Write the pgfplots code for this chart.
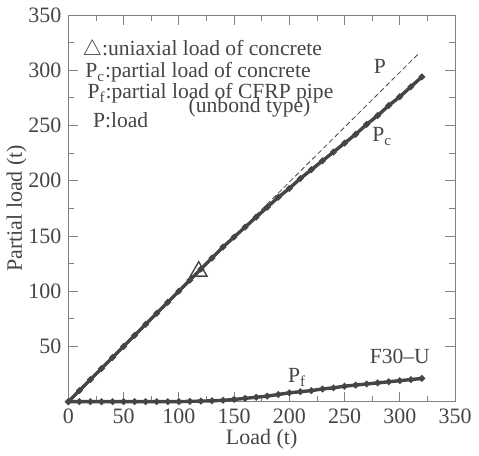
\documentclass[border=0pt]{standalone}
\usepackage{pgfplots}
\pgfplotsset{compat=1.18}
\usepackage{fontspec}
\setmainfont{Liberation Serif}
\definecolor{ink}{HTML}{454545}
\definecolor{axisgray}{HTML}{808080}
\begin{document}
\begin{tikzpicture}
\begin{axis}[
    name=ax,
    scale only axis,
    width=193.5pt, height=193.5pt,
    xmin=0, xmax=350, ymin=0, ymax=350,
    xtick={0,50,...,350},
    ytick={50,100,...,350},
    minor tick num=1,
    tick align=inside,
    major tick length=5pt, minor tick length=3pt,
    axis line style={axisgray},
    every tick/.style={axisgray},
    tick label style={font=\fontsize{11}{13}\selectfont, text=ink},
    /pgf/number format/assume math mode=true,
    xlabel={Load (t)},
    ylabel={Partial load (t)},
    label style={font=\fontsize{11}{13}\selectfont, text=ink},
    xlabel style={yshift=4pt},
    ylabel style={yshift=-6pt},
    clip=false,
]
% P : load (dashed)
\addplot[ink, thin, dashed, dash pattern=on 2.5pt off 1.5pt] coordinates {(0,0) (317,315)};
% Pc : partial load of concrete
\addplot[ink, line width=1.7pt, mark=*, mark size=0.6pt, mark options={solid}] coordinates {
(0,0) (10,10) (20,20) (30,30) (40,40) (50,50) (60,60) (70,70) (80,80) (90,90)
(100,100) (110,110) (120,120) (130,130) (140,140) (150,149) (160,158) (170,167)
(180,176) (190,185) (200,193) (210,202) (220,210) (230,218) (240,226) (250,234)
(260,242) (270,251) (280,259) (290,268) (300,276) (310,285) (320,294)};
% Pf : partial load of CFRP pipe
\addplot[ink, line width=1.7pt, mark=*, mark size=0.6pt] coordinates {
(0,0) (10,0) (20,0) (30,0) (40,0) (50,0) (60,0) (70,0) (80,0) (90,0)
(100,0) (110,0.3) (120,0.5) (130,0.8) (140,1.2) (150,2) (160,3) (170,4)
(180,5) (190,6.5) (200,8) (210,9) (220,10) (230,11.5) (240,12.5) (250,14)
(260,15) (270,16) (280,17) (290,18) (300,19) (310,20) (320,21)};
% uniaxial load of concrete
\addplot[ink, only marks, mark=triangle, mark size=4.8pt, mark options={fill=white, line width=0.7pt}] coordinates {(118,118)};
\begin{scope}[every node/.style={text=ink, font=\fontsize{10.8}{12}\selectfont, inner sep=0pt}]
\node[anchor=west] at (axis cs:12.5,318) {$\triangle$:uniaxial load of concrete};
\node[anchor=west] at (axis cs:15,298) {P$_\mathrm{c}$:partial load of concrete};
\node[anchor=west] at (axis cs:17,279) {P$_\mathrm{f}$:partial load of CFRP pipe};
\node at (axis cs:164,266) {(unbond type)};
\node[anchor=west] at (axis cs:22,254.5) {P:load};
\node at (axis cs:282,303) {P};
\node at (axis cs:284,240) {P$_\mathrm{c}$};
\node at (axis cs:207,22) {P$_\mathrm{f}$};
\node at (axis cs:300,41) {F30--U};
\end{scope}
\end{axis}
\path ([xshift=-34pt,yshift=-24.5pt]ax.south west) rectangle ++(239.5pt,225.5pt);
\end{tikzpicture}
\end{document}
